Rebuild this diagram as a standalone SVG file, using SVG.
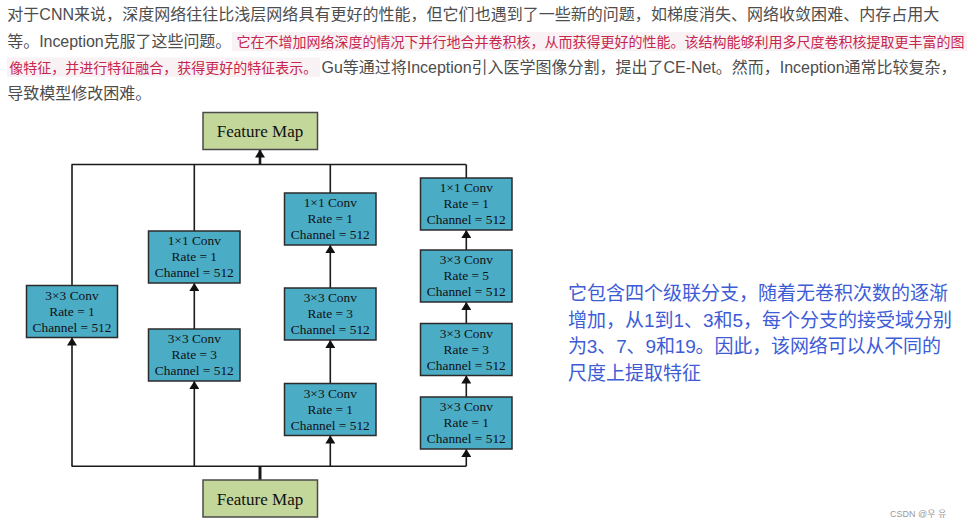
<svg xmlns="http://www.w3.org/2000/svg" width="967" height="528" viewBox="0 0 967 528">
<style>
.body{font-family:'Liberation Sans','Noto Sans CJK SC',sans-serif;font-size:16px;fill:#4d4d4d}
.mark{font-family:'Liberation Sans','Noto Sans CJK SC',sans-serif;font-size:14px;fill:#c7254e}
.markbg{fill:#f9f2f4}
.blue{font-family:'Liberation Sans','Noto Sans CJK SC',sans-serif;font-size:19px;fill:#3d5cd6}
.conv rect{fill:#4bacc6;stroke:#2b2b2b;stroke-width:1.5}
.conv text{font-family:'Liberation Serif',serif;font-size:13.4px;fill:#111;text-anchor:middle}
.fm rect{fill:#c4d79b;stroke:#4a4a4a;stroke-width:1.5}
.fm text{font-family:'Liberation Serif',serif;font-size:17px;fill:#111;text-anchor:middle}
.wire{stroke:#1a1a1a;stroke-width:1.6;fill:none}
.arr{marker-end:url(#ah)}
.wm{font-family:'Liberation Sans','Noto Sans CJK KR',sans-serif;font-size:9px;fill:#999}
</style>
<defs>
<marker id="ah" viewBox="0 0 8 10" refX="8" refY="5" markerWidth="8" markerHeight="10" markerUnits="userSpaceOnUse" orient="auto">
<path d="M0,0 L8,5 L0,10 z" fill="#111"/>
</marker>
</defs>
<rect width="967" height="528" fill="#ffffff"/>

<g id="paragraph">
<text class="body" x="7.3" y="19.5" textLength="932" lengthAdjust="spacing">对于CNN来说，深度网络往往比浅层网络具有更好的性能，但它们也遇到了一些新的问题，如梯度消失、网络收敛困难、内存占用大</text>
<text class="body" x="7.3" y="46.5" textLength="224" lengthAdjust="spacing">等。Inception克服了这些问题。</text>
<rect class="markbg" x="232" y="32" width="735" height="19"/>
<text class="mark" x="236.5" y="47">它在不增加网络深度的情况下并行地合并卷积核，从而获得更好的性能。该结构能够利用多尺度卷积核提取更丰富的图</text>
<rect class="markbg" x="7" y="57.5" width="313" height="19.5"/>
<text class="mark" x="9.3" y="72.5">像特征，并进行特征融合，获得更好的特征表示。</text>
<text class="body" x="321.5" y="72.7" textLength="635" lengthAdjust="spacing">Gu等通过将Inception引入医学图像分割，提出了CE-Net。然而，Inception通常比较复杂，</text>
<text class="body" x="7.3" y="98.7">导致模型修改困难。</text>
</g>

<g id="note">
<text class="blue" x="568" y="300" textLength="380" lengthAdjust="spacing">它包含四个级联分支，随着无卷积次数的逐渐</text>
<text class="blue" x="568" y="326.5" textLength="384" lengthAdjust="spacing">增加，从1到1、3和5，每个分支的接受域分别</text>
<text class="blue" x="568" y="353" textLength="373" lengthAdjust="spacing">为3、7、9和19。因此，该网络可以从不同的</text>
<text class="blue" x="568" y="379.5">尺度上提取特征</text>
</g>

<g id="connectors">
<line class="wire" x1="71.6" y1="164.5" x2="466.2" y2="164.5"/>
<line class="wire" x1="72" y1="164.5" x2="72" y2="285.5"/>
<line class="wire" x1="194.3" y1="164.5" x2="194.3" y2="231"/>
<line class="wire" x1="330.3" y1="164.5" x2="330.3" y2="193"/>
<line class="wire" x1="466.3" y1="164.5" x2="466.3" y2="178"/>
<line class="wire arr" x1="260" y1="165" x2="260" y2="149.5" style="stroke-width:2.6"/>
<line class="wire" x1="71.6" y1="466.3" x2="466.2" y2="466.3"/>
<line class="wire" x1="260" y1="480" x2="260" y2="466.3" style="stroke-width:3"/>
<line class="wire arr" x1="72" y1="466.3" x2="72" y2="337.5"/>
<line class="wire arr" x1="194.3" y1="466.3" x2="194.3" y2="381"/>
<line class="wire arr" x1="330.3" y1="466.3" x2="330.3" y2="435.5"/>
<line class="wire arr" x1="466.3" y1="466.3" x2="466.3" y2="449"/>
<line class="wire arr" x1="194.3" y1="329" x2="194.3" y2="283"/>
<line class="wire arr" x1="330.3" y1="383.5" x2="330.3" y2="340"/>
<line class="wire arr" x1="330.3" y1="288" x2="330.3" y2="245"/>
<line class="wire arr" x1="466.3" y1="397" x2="466.3" y2="375.5"/>
<line class="wire arr" x1="466.3" y1="323.5" x2="466.3" y2="302"/>
<line class="wire arr" x1="466.3" y1="250" x2="466.3" y2="230"/>
</g>

<g id="fm-top" class="fm">
<rect x="203" y="112.5" width="114.5" height="37"/>
<text x="260" y="137">Feature Map</text>
</g>
<g id="fm-bottom" class="fm">
<rect x="203" y="480" width="114.5" height="37"/>
<text x="260" y="504.5">Feature Map</text>
</g>

<g id="b1-conv3-r1" class="conv">
<rect x="26.5" y="285.5" width="91" height="52"/>
<text x="72" y="299.5">3×3 Conv</text><text x="72" y="315.5">Rate = 1</text><text x="72" y="331.5">Channel = 512</text>
</g>

<g id="b2-conv1" class="conv">
<rect x="148.5" y="231" width="91.5" height="52"/>
<text x="194.3" y="245">1×1 Conv</text><text x="194.3" y="261">Rate = 1</text><text x="194.3" y="277">Channel = 512</text>
</g>
<g id="b2-conv3-r3" class="conv">
<rect x="148.5" y="329" width="91.5" height="52"/>
<text x="194.3" y="343">3×3 Conv</text><text x="194.3" y="359">Rate = 3</text><text x="194.3" y="375">Channel = 512</text>
</g>

<g id="b3-conv1" class="conv">
<rect x="284.5" y="193" width="91.5" height="52"/>
<text x="330.3" y="207">1×1 Conv</text><text x="330.3" y="223">Rate = 1</text><text x="330.3" y="239">Channel = 512</text>
</g>
<g id="b3-conv3-r3" class="conv">
<rect x="284.5" y="288" width="91.5" height="52"/>
<text x="330.3" y="302">3×3 Conv</text><text x="330.3" y="318">Rate = 3</text><text x="330.3" y="334">Channel = 512</text>
</g>
<g id="b3-conv3-r1" class="conv">
<rect x="284.5" y="383.5" width="91.5" height="52"/>
<text x="330.3" y="397.5">3×3 Conv</text><text x="330.3" y="413.5">Rate = 1</text><text x="330.3" y="429.5">Channel = 512</text>
</g>

<g id="b4-conv1" class="conv">
<rect x="420.5" y="178" width="91.5" height="52"/>
<text x="466.3" y="192">1×1 Conv</text><text x="466.3" y="208">Rate = 1</text><text x="466.3" y="224">Channel = 512</text>
</g>
<g id="b4-conv3-r5" class="conv">
<rect x="420.5" y="250" width="91.5" height="52"/>
<text x="466.3" y="264">3×3 Conv</text><text x="466.3" y="280">Rate = 5</text><text x="466.3" y="296">Channel = 512</text>
</g>
<g id="b4-conv3-r3" class="conv">
<rect x="420.5" y="323.5" width="91.5" height="52"/>
<text x="466.3" y="337.5">3×3 Conv</text><text x="466.3" y="353.5">Rate = 3</text><text x="466.3" y="369.5">Channel = 512</text>
</g>
<g id="b4-conv3-r1" class="conv">
<rect x="420.5" y="397" width="91.5" height="52"/>
<text x="466.3" y="411">3×3 Conv</text><text x="466.3" y="427">Rate = 1</text><text x="466.3" y="443">Channel = 512</text>
</g>

<text class="wm" x="890" y="517">CSDN @우 유</text>
</svg>
